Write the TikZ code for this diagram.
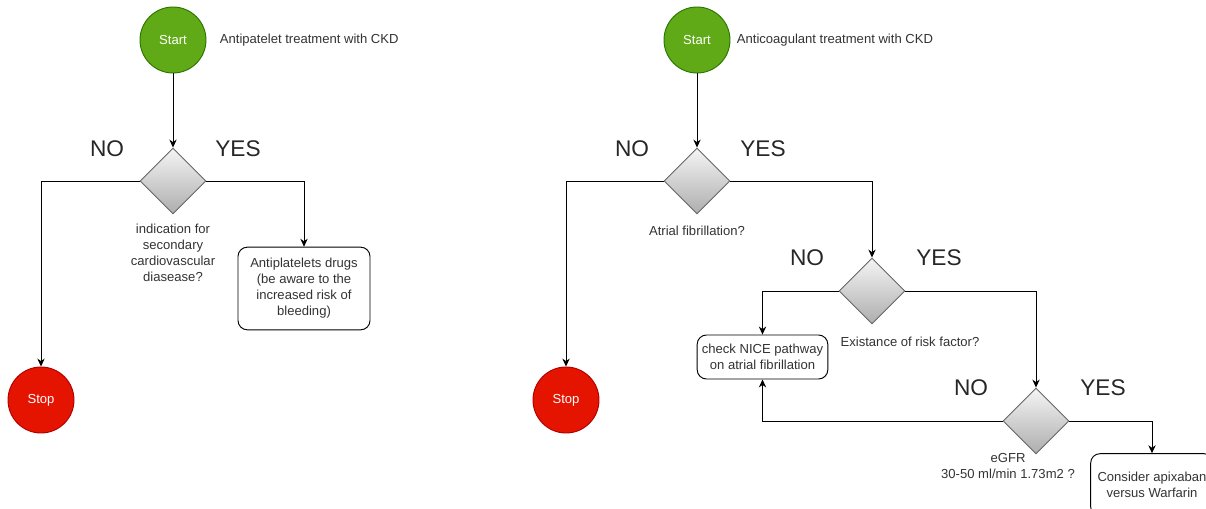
\documentclass[tikz,border=0pt]{standalone}
\usepackage{xcolor}
\usepackage{fontspec}
\setmainfont{Liberation Sans}
\usepackage{tikz}
\usetikzlibrary{shapes.geometric, arrows.meta, positioning}
\definecolor{startgreen}{HTML}{60A917}
\definecolor{startedge}{HTML}{2D7600}
\definecolor{stopred}{HTML}{E51400}
\definecolor{stopedge}{HTML}{B20000}

\begin{document}
\begin{tikzpicture}[x=0.75pt, y=-0.75pt, line width=0.7pt,
    font=\fontsize{9.8}{12}\selectfont, >={Stealth[length=6pt, width=5.5pt]}]
  % Define styles
  \tikzstyle{startnode} = [circle, draw=startedge, fill=startgreen, text=white,
                           minimum size=49.5pt, inner sep=0pt]
  \tikzstyle{stopnode} = [circle, draw=stopedge, fill=stopred, text=white,
                          minimum size=49.5pt, inner sep=0pt]
  \tikzstyle{decision} = [diamond, draw=black!60, top color=black!4,
                          bottom color=black!32, minimum size=49.5pt,
                          inner sep=0pt, aspect=1]
  \tikzstyle{process} = [rectangle, draw, rounded corners=7pt, fill=white,
                         align=center, text=black!80, inner sep=2pt]
  \tikzstyle{note} = [align=center, text=black!80]
  \tikzstyle{answer} = [font=\fontsize{17}{20}\selectfont, text=black!85]

  \useasboundingbox (0,0) rectangle (1206,508);
  \clip (0,0) rectangle (1206,508);

  % Antiplatelet pathway
  \node [startnode] (start1) at (173,40) {Start};
  \node [note, anchor=west] (title1) at (215,40) {Antipatelet treatment with CKD};
  \node [decision] (d1) at (173,181) {};
  \node [note] (d1txt) at (173,253)
    {indication for\\secondary\\cardiovascular\\diasease?};
  \node [answer] (no1) at (107,149) {NO};
  \node [answer] (yes1) at (238,149) {YES};
  \node [stopnode] (stop1) at (41,400) {Stop};
  \node [process, minimum width=99pt, minimum height=62pt] (drugs) at (304,288.5)
    {Antiplatelets drugs\\(be aware to the\\increased risk of\\bleeding)};

  % Anticoagulant pathway
  \node [startnode] (start2) at (697,40) {Start};
  \node [note, anchor=west] (title2) at (732,40) {Anticoagulant treatment with CKD};
  \node [decision] (d2) at (697,181) {};
  \node [note] (d2txt) at (697,231) {Atrial fibrillation?};
  \node [answer] (no2) at (632,149) {NO};
  \node [answer] (yes2) at (763,149) {YES};
  \node [stopnode] (stop2) at (566,400) {Stop};

  \node [decision] (d3) at (872,291) {};
  \node [note] (d3txt) at (910,342) {Existance of risk factor?};
  \node [answer] (no3) at (807,258) {NO};
  \node [answer] (yes3) at (939,258) {YES};
  \node [process, minimum width=98pt, minimum height=33pt] (nice) at (762.5,357)
    {check NICE pathway\\on atrial fibrillation};

  \node [decision] (d4) at (1036,421) {};
  \node [note] (d4txt) at (1008,466) {eGFR\\30-50 ml/min 1.73m2 ?};
  \node [answer] (no4) at (971,388) {NO};
  \node [answer] (yes4) at (1103,388) {YES};
  \node [process, minimum width=92pt, minimum height=47pt] (apix) at (1152,485)
    {Consider apixaban\\versus Warfarin};

  % Edges
  \draw [->] (start1) -- (d1);
  \draw [->] (d1.west) -| (stop1);
  \draw [->] (d1.east) -| (drugs);

  \draw [->] (start2) -- (d2);
  \draw [->] (d2.west) -| (stop2);
  \draw [->] (d2.east) -| (d3);
  \draw [->] (d3.west) -| (nice);
  \draw [->] (d3.east) -| (d4);
  \draw [->] (d4.west) -| (nice);
  \draw [->] (d4.east) -| (apix);
\end{tikzpicture}
\end{document}
